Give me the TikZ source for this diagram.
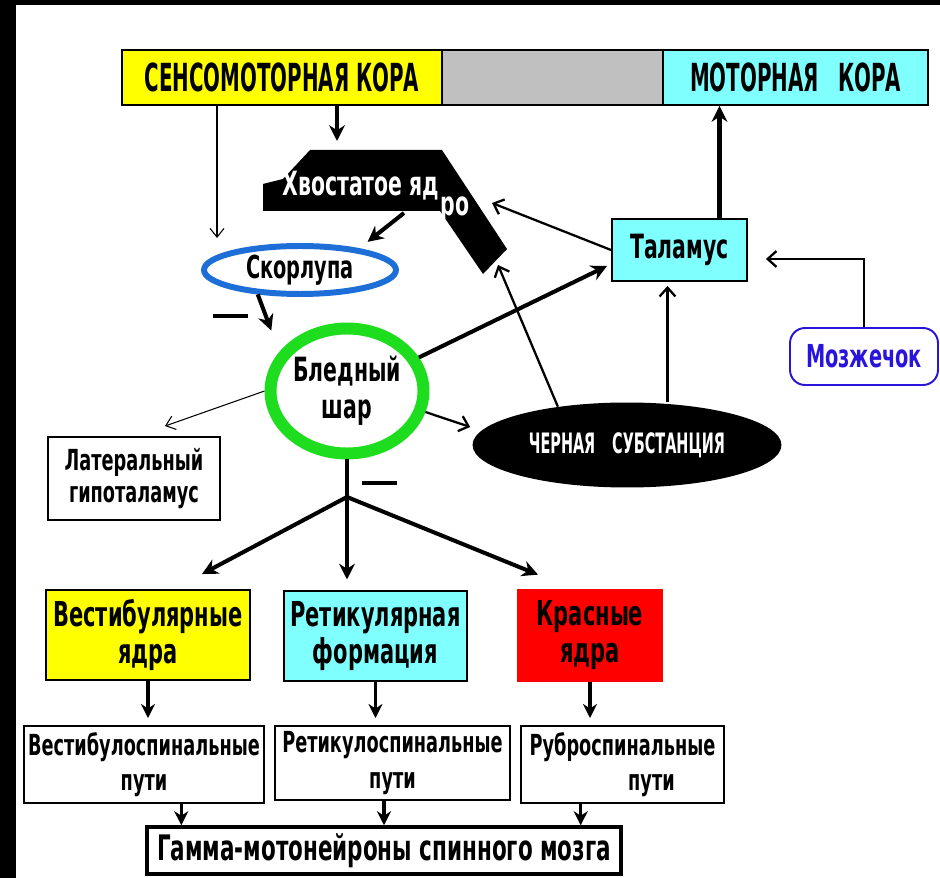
\documentclass[tikz,border=0pt]{standalone}
\usepackage{fontspec}
\newfontfamily\condfont{DejaVu Sans Condensed}[FakeStretch=0.68]
\newfontfamily\capsfont{DejaVu Sans Condensed}[FakeStretch=0.57]
\usetikzlibrary{arrows.meta,shapes.geometric}

\definecolor{barYellow}{RGB}{255,255,0}
\definecolor{barCyan}{RGB}{128,255,255}
\definecolor{barGray}{RGB}{192,192,192}
\definecolor{ringGreen}{RGB}{30,220,30}
\definecolor{ringBlue}{RGB}{30,110,215}
\definecolor{cerebBlue}{RGB}{40,20,220}
\definecolor{nucRed}{RGB}{255,0,0}

\newcommand{\diagfont}[2]{\condfont\bfseries\fontsize{#1}{#2}\selectfont}
\newcommand{\diagcaps}[2]{\capsfont\bfseries\fontsize{#1}{#2}\selectfont}

\begin{document}
\begin{tikzpicture}[x=0.02cm,y=-0.02cm,
	box/.style={draw, line width=1.1pt, align=center, inner sep=0pt},
	thickarr/.style={line width=2.3pt, -{Stealth[length=9pt,width=9pt]}},
	boxarr/.style={line width=2pt, -{Stealth[length=8pt,width=8pt]}},
	barb/.style={line width=1.3pt, -{Straight Barb[length=5pt,width=9pt]}},
	thinbarb/.style={line width=0.6pt, -{Straight Barb[length=5pt,width=8pt]}}]
		\useasboundingbox (0,0) rectangle (940,878);
		% Frame.
		\fill[black] (0,0) rectangle (940,878);
		\fill[white] (16,5) rectangle (940,878);

		% Cortex bar.
		\node[box, fill=barYellow, minimum width=6.4cm, minimum height=1.1cm,
			font=\diagcaps{22}{24}] (sens) at (282,77.5) {СЕНСОМОТОРНАЯ КОРА};
		\node[box, fill=barGray, minimum width=4.42cm, minimum height=1.1cm] (gap) at (552.5,77.5) {};
		\node[box, fill=barCyan, minimum width=5.3cm, minimum height=1.1cm,
			font=\diagcaps{22}{24}] (motor) at (795.5,77.5) {МОТОРНАЯ\hspace{0.5em}КОРА};

		% Caudate nucleus.
		\fill[black] (310,150) -- (442,150) -- (507,249) -- (483,274) -- (440,211)
			-- (263,211) -- (263,184) -- (283,179) -- cycle;
		\node[white, font=\diagfont{19}{21}] (caudtxt) at (361,186) {Хвостатое яд};
		\node[white, font=\diagfont{19}{21}] (caudro) at (455,210) {ро};
		\coordinate (caudtop) at (337,141);
		\coordinate (caudbot) at (404,213);
		\coordinate (caudside) at (492,203);
		\coordinate (caudtip) at (498,265);

		% Putamen and globus pallidus.
		\node[ellipse, draw=ringBlue, line width=3.4pt, inner sep=0pt, minimum width=3.84cm,
			minimum height=0.96cm, font=\diagfont{18}{20}] (putamen) at (300,270) {Скорлупа};
		\node[ellipse, draw=ringGreen, line width=6.8pt, inner sep=0pt, minimum width=3.06cm,
			minimum height=2.5cm, align=center, font=\diagfont{19}{21}] (globus) at (347,391) {Бледный\\шар};

		% Side targets.
		\node[box, minimum width=3.44cm, minimum height=1.66cm,
			font=\diagfont{16.5}{18}] (lateral) at (134,478.5) {Латеральный\\гипоталамус};
		\node[box, fill=barCyan, minimum width=2.7cm, minimum height=1.24cm,
			font=\diagfont{19}{21}] (thal) at (679.5,250) {Таламус};
		\node[draw=cerebBlue, line width=1.1pt, rounded corners=0.3cm, minimum width=2.96cm,
			minimum height=1.14cm, text=cerebBlue, font=\diagfont{18}{20}] (cereb) at (864,356.5) {Мозжечок};
		\node[ellipse, fill=black, text=white, inner sep=0pt, minimum width=6.18cm, minimum height=1.7cm,
			font=\diagcaps{16}{18}] (nigra) at (627,445) {ЧЕРНАЯ\hspace{0.6em}СУБСТАНЦИЯ};

		% Brainstem nuclei.
		\node[box, fill=barYellow, minimum width=4.08cm, minimum height=1.8cm,
			font=\diagfont{19.5}{21}] (vest) at (148,635) {Вестибулярные\\ядра};
		\node[box, fill=barCyan, minimum width=3.66cm, minimum height=1.8cm,
			font=\diagfont{19.5}{21}] (retic) at (375.5,636) {Ретикулярная\\формация};
		\node[fill=nucRed, align=center, inner sep=0pt, minimum width=2.92cm, minimum height=1.86cm,
			font=\diagfont{19.5}{21}] (rednuc) at (590,635.5) {Красные\\ядра};

		% Pathways.
		\node[box, minimum width=4.8cm, minimum height=1.54cm,
			font=\diagfont{16.5}{20}] (vpath) at (144,764.5) {Вестибулоспинальные\\пути};
		\node[box, minimum width=4.7cm, minimum height=1.48cm,
			font=\diagfont{16.5}{20}] (rpath) at (392.5,763) {Ретикулоспинальные\\пути};
		\node[box, minimum width=4.06cm, minimum height=1.54cm,
			font=\diagfont{16.5}{20}] (rubpath) at (622.5,764.5) {Руброспинальные\\\hspace{2em}пути};
		\node[box, line width=2pt, minimum width=9.48cm, minimum height=0.94cm,
			font=\diagfont{20}{22}] (gamma) at (384,850.5) {Гамма-мотонейроны спинного мозга};

		% Cortex outputs.
		\coordinate (putin) at (217,238);
		\draw[thinbarb] (sens.south -| putin) -- (putin);
		\draw[thickarr] (sens.south -| caudtop) -- (caudtop);
		\draw[thickarr, shorten >=6pt] (caudbot) -- (putamen.20);
		\draw[thickarr, shorten >=13pt] (putamen.-150) -- (globus.150);
		\draw[line width=2.3pt] (213,316) -- (248,316);

		% Pallidum outputs.
		\draw[thinbarb] (globus.west) -- ([shift={(31,-10)}]lateral.north);
		\draw[barb] (globus.-15) -- ([shift={(-2,-18)}]nigra.west);
		\draw[thickarr] (globus.25) -- ([shift={(-4,-16)}]thal.south west);

		% Thalamus loop.
		\coordinate (thtop) at ([shift={(40,0)}]thal.north);
		\coordinate (thbot) at ([shift={(-12,4)}]thal.south);
		\draw[thickarr] (thtop) -- (thtop |- motor.south);
		\draw[barb] (thal.west) -- (caudside);
		\draw[barb] (nigra.151) -- (caudtip);
		\draw[barb] (nigra.north -| thbot) -- (thbot);
		\draw[barb] (cereb.north) |- ([shift={(18,9)}]thal.east);

		% Descending fork.
		\coordinate (fork) at (347,497);
		\draw[line width=2.3pt] (globus.south) -- (fork);
		\draw[line width=2.3pt] (362,483) -- (397,483);
		\draw[thickarr] (fork) -- ([shift={(54,-15)}]vest.north);
		\draw[thickarr, shorten >=6pt] (fork) -- (fork |- retic.north);
		\draw[thickarr] (fork) -- ([shift={(-52,-14)}]rednuc.north);

		% Down to the spinal cord.
		\draw[boxarr, shorten >=4pt] (vest.south) -- (vest.south |- vpath.north);
		\draw[boxarr, shorten >=4pt] (retic.south) -- (retic.south |- rpath.north);
		\draw[boxarr, shorten >=4pt] (rednuc.south) -- (rednuc.south |- rubpath.north);
		\coordinate (gin1) at ([shift={(36,0)}]gamma.north west);
		\coordinate (gin3) at ([shift={(-42,0)}]gamma.north east);
		\draw[boxarr] (vpath.south -| gin1) -- (gin1);
		\draw[boxarr] (rpath.south -| gamma.north) -- (gamma.north);
		\draw[boxarr] (rubpath.south -| gin3) -- (gin3);
	\end{tikzpicture}
\end{document}
